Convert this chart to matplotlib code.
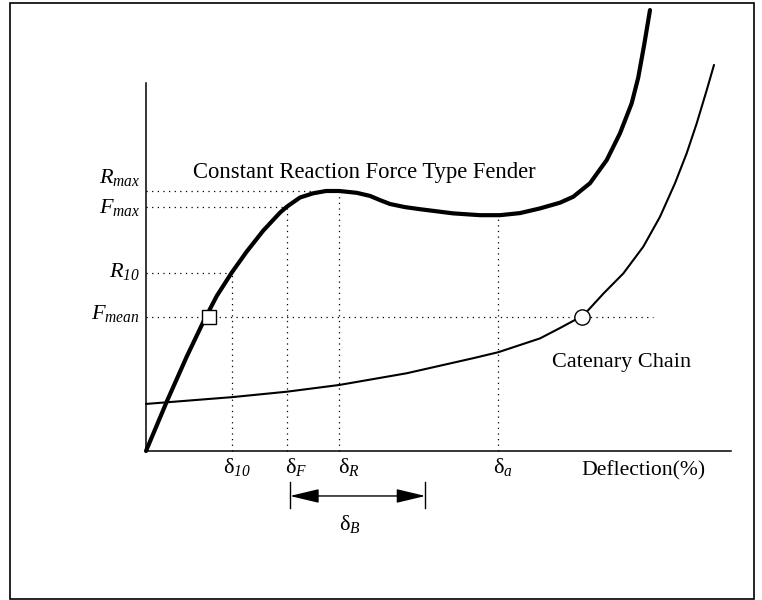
import numpy as np
import matplotlib.pyplot as plt
from matplotlib.patches import Rectangle

plt.rcParams['font.family'] = ['Liberation Serif', 'DejaVu Serif']
plt.rcParams['mathtext.fontset'] = 'custom'
plt.rcParams['mathtext.rm'] = 'Liberation Serif'
plt.rcParams['mathtext.it'] = 'Liberation Serif:italic'
plt.rcParams['mathtext.cal'] = 'Liberation Serif:italic'  # italic digits in subscripts

# deflection (%) / reaction force (% of Rmax)
fender_x = [0, 2.42, 4.75, 6.69, 8.25, 10.0, 11.75, 13.69, 15.64, 16.45,
            17.97, 19.49, 21.0, 22.55, 24.59, 26.14, 27.30, 28.47, 30.22, 31.97,
            35.82, 38.97, 41.31, 43.64, 45.97, 48.31, 49.86, 51.81, 53.76,
            55.31, 56.67, 57.43, 58.13, 58.81]
fender_y = [0, 19.0, 36.3, 49.7, 59.6, 68.6, 76.7, 84.8, 91.7, 94.0,
            97.5, 99.1, 100.0, 100.0, 99.3, 98.1, 96.5, 95.0, 93.8, 93.0,
            91.4, 90.7, 90.7, 91.5, 93.3, 95.5, 97.8, 103.0, 111.9,
            122.2, 133.7, 143.5, 156.2, 169.6]

chain_x = [0, 10.0, 16.42, 22.56, 30.42, 38.19, 41.11, 45.97, 48.31, 50.90,
           51.61, 53.36, 55.70, 58.03, 59.98, 61.73, 63.09, 64.26, 65.43, 66.28]
chain_y = [18.1, 20.7, 22.8, 25.4, 29.9, 35.7, 38.0, 43.3, 47.3, 51.9,
           54.2, 60.5, 68.3, 78.6, 90.1, 103.0, 114.5, 126.0, 138.8, 148.5]

# characteristic points
d10, dF, dR, da = 10.0, 16.45, 22.55, 41.1
R_max, F_max, R10, F_mean = 100.0, 94.0, 68.6, 51.7
d_square, d_circle = 7.35, 50.90
dB_start, dB_end = 16.8, 32.6

fig = plt.figure(figsize=(7.62, 6.0), dpi=100)
ax = fig.add_axes([0, 0, 1, 1])
ax.set_xlim(-17.04, 71.88)
ax.set_ylim(-57.31, 173.46)
ax.axis('off')

# frame round the whole picture
fig.patches.append(Rectangle((10/762, 1/600), 744/762, 596/600, transform=fig.transFigure,
                             fill=False, lw=1.2, ec='k'))

# axes lines
ax.plot([0, 0], [0, 141.4], color='k', lw=1.1)
ax.plot([0, 68.3], [0, 0], color='k', lw=1.1)

dot = dict(color='k', lw=0.9, ls=(0, (1, 3.5)))
ax.plot([0, dR], [R_max, R_max], **dot)
ax.plot([0, dF], [F_max, F_max], **dot)
ax.plot([0, d10], [R10, R10], **dot)
ax.plot([0, 59.2], [F_mean, F_mean], **dot)
ax.plot([d10, d10], [0, R10], **dot)
ax.plot([dF, dF], [0, F_max], **dot)
ax.plot([dR, dR], [0, R_max], **dot)
ax.plot([da, da], [0, 90.7], **dot)

ax.plot(chain_x, chain_y, color='k', lw=1.5, solid_capstyle='round', solid_joinstyle='round')
ax.plot(fender_x, fender_y, color='k', lw=3.0, solid_capstyle='round', solid_joinstyle='round')

ax.plot(d_square, F_mean, marker='s', ms=10, mfc='white', mec='k', mew=1.0)
ax.plot(d_circle, F_mean, marker='o', ms=11, mfc='white', mec='k', mew=1.0)

fs = 16
ax.text(-0.7, 103.1, r'$R_{max}$', ha='right', va='baseline', fontsize=fs)
ax.text(-0.7, 91.5, r'$F_{max}$', ha='right', va='baseline', fontsize=fs)
ax.text(-0.7, 67.0, r'$R_{\mathcal{10}}$', ha='right', va='baseline', fontsize=fs)
ax.text(-0.7, 50.7, r'$F_{mean}$', ha='right', va='baseline', fontsize=fs)

ax.text(8.98, -8.46, r'$\mathrm{δ}_{\mathcal{10}}$', ha='left', va='baseline', fontsize=fs)
ax.text(16.22, -8.46, r'$\mathrm{δ}_{F}$', ha='left', va='baseline', fontsize=fs)
ax.text(22.40, -8.46, r'$\mathrm{δ}_{R}$', ha='left', va='baseline', fontsize=fs)
ax.text(40.49, -8.46, r'$\mathrm{δ}_{a}$', ha='left', va='baseline', fontsize=fs)
ax.text(22.5, -30.4, r'$\mathrm{δ}_{B}$', ha='left', va='baseline', fontsize=fs)

ax.text(50.84, -9.6, 'Deflection(%)', ha='left', va='baseline', fontsize=15.6)
ax.text(47.34, 32.2, 'Catenary Chain', ha='left', va='baseline', fontsize=fs)
ax.text(5.52, 104.9, 'Constant Reaction Force Type Fender', ha='left', va='baseline', fontsize=16.3)

# deflection range arrow
ax.annotate('', xy=(dB_start, -17.3), xytext=(dB_end, -17.3),
            arrowprops=dict(arrowstyle='<|-|>,head_length=1.8,head_width=0.43',
                            mutation_scale=10, lw=1.0, color='k', shrinkA=0, shrinkB=0))
ax.plot([dB_start, dB_start], [-11.9, -21.9], color='k', lw=1.0)
ax.plot([dB_end, dB_end], [-11.9, -21.9], color='k', lw=1.0)

fig.savefig('out.png', dpi=100)
